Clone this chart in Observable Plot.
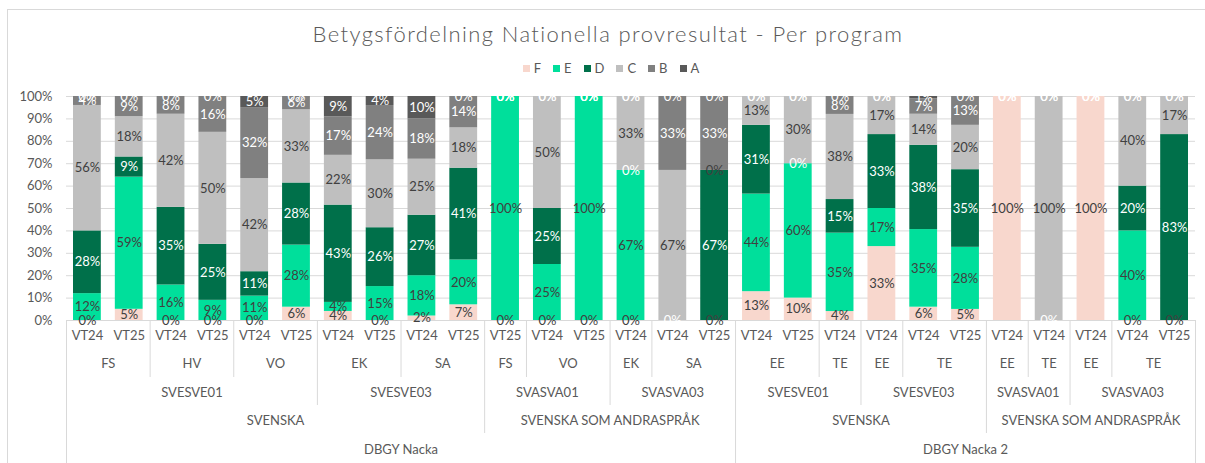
<!DOCTYPE html>
<html><head><meta charset="utf-8">
<script src="https://cdn.jsdelivr.net/npm/d3@7"></script>
<script src="https://cdn.jsdelivr.net/npm/@observablehq/plot@0.6"></script>
<style>
body{margin:0;background:#fff;font-family:Lato, "Noto Sans", sans-serif;}
#wrap{position:relative;width:1205px;height:463px;overflow:hidden;}
#frame{position:absolute;left:7px;top:9px;width:1300px;height:600px;border-top:1px solid #d9d9d9;border-left:1px solid #d9d9d9;pointer-events:none;}
#head{position:relative;height:80px;}
#title{position:absolute;top:21px;left:0;width:1216px;text-align:center;font-size:22px;font-weight:300;letter-spacing:1.4px;color:#595959;line-height:26px;}
#legend{position:absolute;top:60px;left:0;width:1222px;display:flex;justify-content:center;font-size:13px;color:#595959;line-height:16px;}
.item{display:flex;align-items:center;margin:0 6px;}
.sw{width:7px;height:7px;margin-right:4px;}
#chart svg{display:block;}
</style></head>
<body>
<div id="wrap">
  <div id="frame"></div>
  <div id="head"><div id="title">Betygsfördelning Nationella provresultat - Per program</div><div id="legend"></div></div>
  <div id="chart"></div>
</div>
<script>
// ---- data ----
const grades = ["F", "E", "D", "C", "B", "A"];
const gradeColors = ["#F8D7CD", "#00DF9B", "#00704A", "#BFBFBF", "#808080", "#595959"];
const school  = ["DBGY Nacka","DBGY Nacka","DBGY Nacka","DBGY Nacka","DBGY Nacka","DBGY Nacka","DBGY Nacka","DBGY Nacka","DBGY Nacka","DBGY Nacka","DBGY Nacka","DBGY Nacka","DBGY Nacka","DBGY Nacka","DBGY Nacka","DBGY Nacka",
                 "DBGY Nacka 2","DBGY Nacka 2","DBGY Nacka 2","DBGY Nacka 2","DBGY Nacka 2","DBGY Nacka 2","DBGY Nacka 2","DBGY Nacka 2","DBGY Nacka 2","DBGY Nacka 2","DBGY Nacka 2"];
const subject = ["SVENSKA","SVENSKA","SVENSKA","SVENSKA","SVENSKA","SVENSKA","SVENSKA","SVENSKA","SVENSKA","SVENSKA",
                 "SVENSKA SOM ANDRASPRÅK","SVENSKA SOM ANDRASPRÅK","SVENSKA SOM ANDRASPRÅK","SVENSKA SOM ANDRASPRÅK","SVENSKA SOM ANDRASPRÅK","SVENSKA SOM ANDRASPRÅK",
                 "SVENSKA","SVENSKA","SVENSKA","SVENSKA","SVENSKA","SVENSKA",
                 "SVENSKA SOM ANDRASPRÅK","SVENSKA SOM ANDRASPRÅK","SVENSKA SOM ANDRASPRÅK","SVENSKA SOM ANDRASPRÅK","SVENSKA SOM ANDRASPRÅK"];
const course  = ["SVESVE01","SVESVE01","SVESVE01","SVESVE01","SVESVE01","SVESVE01","SVESVE03","SVESVE03","SVESVE03","SVESVE03",
                 "SVASVA01","SVASVA01","SVASVA01","SVASVA03","SVASVA03","SVASVA03",
                 "SVESVE01","SVESVE01","SVESVE01","SVESVE03","SVESVE03","SVESVE03",
                 "SVASVA01","SVASVA01","SVASVA03","SVASVA03","SVASVA03"];
const program = ["FS","FS","HV","HV","VO","VO","EK","EK","SA","SA",
                 "FS","VO","VO","EK","SA","SA",
                 "EE","EE","TE","EE","TE","TE",
                 "EE","TE","EE","TE","TE"];
const term    = ["VT24","VT25","VT24","VT25","VT24","VT25","VT24","VT25","VT24","VT25",
                 "VT25","VT24","VT25","VT24","VT24","VT25",
                 "VT24","VT25","VT24","VT24","VT24","VT25",
                 "VT24","VT24","VT24","VT24","VT25"];
// percentages per grade (null = no value / no label)
const F = [0, 5, 0, 0, 0, 6, 4, 0, 2, 7,   0, 0, 0, 0, null, 0,   13, 10, 4, 33, 6, 5,   100, null, 100, 0, 0];
const E = [12, 59, 16, 9, 11, 28, 4, 15, 18, 20,   100, 25, 100, 67, null, null,   44, 60, 35, 17, 35, 28,   null, null, null, 40, null];
const D = [28, 9, 35, 25, 11, 28, 43, 26, 27, 41,   0, 25, 0, 0, 0, 67,   31, 0, 15, 33, 38, 35,   0, 0, 0, 20, 83];
const C = [56, 18, 42, 50, 42, 33, 22, 30, 25, 18,   null, 50, null, 33, 67, 0,   13, 30, 38, 17, 14, 20,   null, 100, null, 40, 17];
const B = [4, 9, 8, 16, 32, 6, 17, 24, 18, 14,   0, 0, 0, 0, 33, 33,   0, 0, 8, 0, 7, 13,   0, 0, 0, 0, 0];
const A = [0, 0, 0, 0, 5, 0, 9, 4, 10, 0,   0, 0, 0, 0, 0, 0,   0, 0, 0, 0, 1, 0,   0, 0, 0, 0, 0];
const series = {F, E, D, C, B, A};
const whiteLabel = new Set(["D", "B", "A"]);

// ---- derived tables ----
const n = term.length;
const rows = [];
for (let i = 0; i < n; i++) {
  let total = 0;
  grades.forEach(g => { const v = series[g][i]; if (v != null) total += v; });
  let acc = 0;
  grades.forEach(g => {
    const v = series[g][i];
    if (v == null) return;
    rows.push({i, grade: g, value: v, y1: acc / total, y2: (acc + v) / total});
    acc += v;
  });
}
const levels = [term, program, course, subject, school];
const keyAt = (k, i) => levels.slice(k).map(a => a[i]).join("|");
const groups = levels.map((arr, k) => {
  const out = [];
  let start = 0;
  for (let i = 1; i <= n; i++) {
    if (i === n || keyAt(k, i) !== keyAt(k, start)) {
      out.push({label: arr[start], mid: (start + i) / 2});
      start = i;
    }
  }
  return out;
});
// separator depth for each boundary
const sepDepth = [];
for (let b = 0; b <= n; b++) {
  if (b === 0 || b === n) { sepDepth.push({b, k: 5}); continue; }
  let k = 0;
  for (let j = 4; j >= 1; j--) if (keyAt(j, b - 1) !== keyAt(j, b)) { k = j; break; }
  sepDepth.push({b, k});
}
const rowDy = [19, 47, 76, 104, 133];
const sepLen = [0, 57, 85, 113, 143, 143];
const barFrac = 0.665;

// legend
const leg = document.getElementById("legend");
grades.forEach((g, j) => {
  const it = document.createElement("div"); it.className = "item";
  it.innerHTML = `<span class="sw" style="background:${gradeColors[j]}"></span><span>${g}</span>`;
  leg.appendChild(it);
});

const fmt = d => `${d.value}%`;
const marks = [
  Plot.gridY({ticks: 10, stroke: "#d9d9d9", strokeOpacity: 1}),
  Plot.ruleY([0], {stroke: "#d9d9d9"}),
  Plot.axisY({ticks: 10, tickFormat: d3.format(".0%"), tickSize: 0, tickPadding: 14, fontSize: 13, label: null}),
  Plot.rectY(rows, {x1: d => d.i + (1 - barFrac) / 2, x2: d => d.i + (1 + barFrac) / 2, y1: "y1", y2: "y2", fill: "grade"}),
  Plot.text(rows.filter(d => !whiteLabel.has(d.grade)), {x: d => d.i + 0.5, y: d => (d.y1 + d.y2) / 2, text: fmt, fill: "#404040", fontSize: 13}),
  Plot.text(rows.filter(d => whiteLabel.has(d.grade)), {x: d => d.i + 0.5, y: d => (d.y1 + d.y2) / 2, text: fmt, fill: "#ffffff", fontSize: 13})
];
[1, 2, 3, 4, 5].forEach(k => {
  const ticks = sepDepth.filter(d => d.k === k).map(d => d.b);
  if (ticks.length) marks.push(Plot.axisX(ticks, {tickSize: sepLen[k], tickFormat: () => "", stroke: "#d9d9d9", strokeOpacity: 1, label: null}));
});
groups.forEach((gs, k) => {
  marks.push(Plot.text(gs, {x: "mid", text: "label", frameAnchor: "bottom", dy: rowDy[k], fontSize: 13, fill: "#595959", style: "letter-spacing:0.4px"}));
});

const chart = Plot.plot({
  width: 1205,
  height: 383,
  marginTop: 16,
  marginBottom: 143,
  marginLeft: 66,
  marginRight: 10,
  x: {type: "linear", domain: [0, n]},
  y: {domain: [0, 1]},
  color: {domain: grades, range: gradeColors},
  style: {fontFamily: "Lato, 'Noto Sans', sans-serif", color: "#595959", background: "transparent", overflow: "visible"},
  marks
});
document.getElementById("chart").appendChild(chart);
</script>
</body></html>
